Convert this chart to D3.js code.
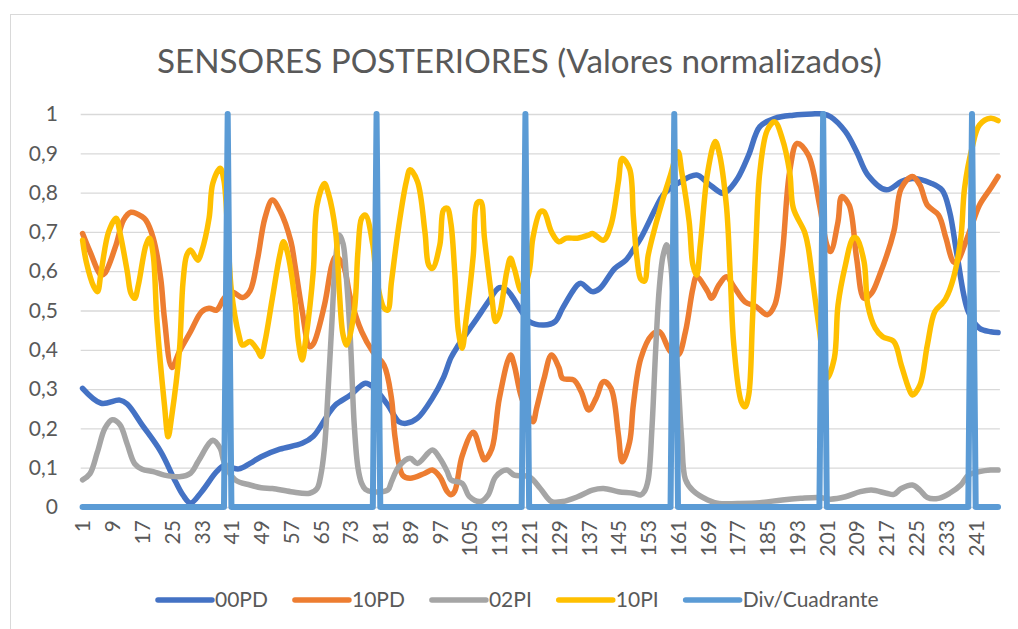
<!DOCTYPE html>
<html>
<head>
<meta charset="utf-8">
<script src="https://cdn.jsdelivr.net/npm/d3@7"></script>
<style>
  html, body { margin: 0; padding: 0; background: #fff; }
  svg { display: block; font-family: Lato, "Open Sans", sans-serif; }
</style>
</head>
<body>
<svg id="chart" width="1018" height="629"></svg>
<script>
// Sample count (x categories 1..N)
const N = 247;

// X tick labels (every 8th sample)
const xTickLabels = [1, 9, 17, 25, 33, 41, 49, 57, 65, 73, 81, 89, 97, 105, 113, 121,
  129, 137, 145, 153, 161, 169, 177, 185, 193, 201, 209, 217, 225, 233, 241];

// Y tick values
const yTickValues = [0, 0.1, 0.2, 0.3, 0.4, 0.5, 0.6, 0.7, 0.8, 0.9, 1];

// Series names and colours
const seriesNames = ["00PD", "10PD", "02PI", "10PI", "Div/Cuadrante"];
const seriesColors = ["#4472C4", "#ED7D31", "#A5A5A5", "#FFC000", "#5B9BD5"];

// Normalised readings as [sample, value]
const s00PD = [[1,0.302],[6,0.264],[11,0.272],[13,0.262],[17,0.209],[22,0.141],[26,0.064],[28,0.03],[30,0.01],
  [33,0.039],[37,0.09],[39,0.105],[41,0.1],[43,0.097],[46,0.111],[49,0.128],[54,0.147],[60,0.162],[63,0.18],
  [67,0.236],[69,0.26],[73,0.285],[77,0.315],[79,0.306],[83,0.26],[86,0.217],[88,0.213],[91,0.226],[95,0.277],
  [98,0.33],[100,0.38],[102,0.412],[107,0.48],[110,0.522],[113,0.558],[115,0.552],[119,0.497],[121,0.472],
  [125,0.463],[128,0.472],[130,0.506],[134,0.565],[135,0.569],[138,0.548],[140,0.556],[144,0.607],[147,0.628],
  [149,0.655],[151,0.684],[155,0.76],[157,0.794],[161,0.824],[166,0.845],[169,0.824],[173,0.798],[174,0.802],
  [177,0.836],[180,0.896],[183,0.968],[187,0.989],[192,0.997],[197,1.0],[200,1.0],[202,0.993],[206,0.955],
  [209,0.904],[212,0.845],[217,0.807],[221,0.828],[224,0.836],[229,0.824],[232,0.806],[234,0.751],[236,0.64],
  [239,0.497],[242,0.455],[245,0.446],[247,0.444]];

const s10PD = [[1,0.696],[3,0.65],[6,0.59],[7,0.595],[10,0.667],[12,0.73],[14,0.75],[17,0.739],[18,0.73],
  [20,0.684],[22,0.582],[23,0.48],[25,0.355],[27,0.395],[30,0.446],[33,0.497],[35,0.506],[37,0.501],[39,0.531],
  [41,0.548],[44,0.533],[46,0.55],[48,0.63],[50,0.735],[52,0.781],[54,0.755],[57,0.675],[58,0.62],[60,0.5],
  [62,0.408],[63,0.415],[66,0.514],[68,0.616],[69,0.637],[71,0.616],[73,0.531],[76,0.446],[79,0.395],[82,0.361],
  [84,0.277],[85,0.175],[87,0.081],[89,0.073],[93,0.086],[95,0.094],[97,0.077],[99,0.039],[100,0.031],[101,0.04],
  [103,0.13],[106,0.19],[108,0.141],[109,0.12],[111,0.149],[113,0.277],[116,0.387],[117,0.361],[119,0.277],
  [122,0.217],[123,0.251],[125,0.327],[127,0.387],[129,0.355],[130,0.327],[133,0.323],[135,0.293],[137,0.247],
  [139,0.277],[141,0.319],[143,0.302],[145,0.183],[146,0.115],[148,0.166],[149,0.26],[151,0.378],[154,0.438],
  [156,0.446],[159,0.395],[161,0.387],[163,0.446],[165,0.556],[166,0.586],[169,0.548],[170,0.531],[172,0.565],
  [174,0.586],[176,0.561],[179,0.522],[182,0.51],[185,0.489],[187,0.514],[189,0.641],[191,0.853],[193,0.925],
  [196,0.896],[199,0.77],[201,0.667],[202,0.65],[204,0.726],[205,0.79],[207,0.768],[209,0.633],[211,0.531],
  [213,0.544],[215,0.586],[219,0.701],[221,0.811],[224,0.841],[226,0.819],[228,0.768],[231,0.743],[233,0.684],
  [235,0.624],[236,0.624],[238,0.667],[240,0.718],[242,0.768],[245,0.811],[247,0.841]];

const s02PI = [[1,0.069],[3,0.085],[5,0.14],[7,0.2],[9,0.222],[11,0.21],[13,0.16],[15,0.11],[17,0.096],[20,0.09],
  [23,0.081],[27,0.077],[30,0.086],[32,0.115],[35,0.162],[36,0.17],[38,0.149],[39,0.115],[42,0.069],[46,0.056],
  [49,0.049],[52,0.047],[57,0.039],[62,0.035],[64,0.047],[65,0.08],[66,0.15],[67,0.3],[68,0.47],[69,0.63],
  [70,0.692],[71,0.67],[72,0.57],[73,0.42],[74,0.21],[75,0.1],[76,0.06],[77,0.045],[79,0.039],[83,0.043],
  [84,0.064],[86,0.103],[89,0.124],[91,0.111],[95,0.145],[97,0.124],[99,0.09],[100,0.069],[103,0.06],[105,0.026],
  [108,0.014],[110,0.031],[112,0.077],[115,0.094],[117,0.081],[121,0.077],[124,0.047],[127,0.014],[130,0.014],
  [134,0.026],[138,0.043],[141,0.047],[145,0.039],[149,0.035],[151,0.031],[152,0.04],[153,0.07],[154,0.2],
  [155,0.4],[156,0.56],[157,0.64],[158,0.667],[159,0.62],[160,0.48],[161,0.33],[162,0.17],[163,0.07],[165,0.042],
  [169,0.018],[172,0.009],[177,0.009],[183,0.011],[189,0.018],[194,0.022],[199,0.024],[202,0.02],[206,0.026],
  [210,0.039],[213,0.043],[217,0.035],[219,0.032],[221,0.047],[224,0.056],[226,0.043],[228,0.024],[231,0.022],
  [234,0.035],[237,0.056],[239,0.081],[242,0.09],[245,0.094],[247,0.094]];

const s10PI = [[1,0.679],[2,0.624],[4,0.561],[5,0.548],[6,0.599],[8,0.7],[10,0.735],[11,0.7],[13,0.6],[14,0.544],
  [15,0.531],[16,0.565],[18,0.665],[19,0.684],[20,0.64],[21,0.472],[23,0.26],[24,0.179],[25,0.234],[27,0.395],
  [28,0.573],[29,0.641],[30,0.654],[32,0.628],[33,0.65],[35,0.735],[36,0.824],[38,0.862],[39,0.83],[40,0.7],
  [41,0.55],[43,0.438],[44,0.412],[46,0.421],[48,0.399],[49,0.383],[50,0.42],[52,0.531],[54,0.641],[55,0.675],
  [56,0.65],[58,0.531],[59,0.421],[60,0.374],[61,0.429],[63,0.6],[64,0.768],[66,0.823],[67,0.8],[69,0.7],
  [70,0.548],[71,0.438],[72,0.412],[74,0.497],[75,0.65],[76,0.735],[77,0.743],[79,0.667],[80,0.58],[82,0.506],
  [83,0.501],[84,0.573],[86,0.717],[88,0.828],[89,0.858],[91,0.828],[93,0.7],[94,0.616],[95,0.607],[97,0.667],
  [98,0.756],[99,0.76],[100,0.72],[101,0.599],[102,0.446],[103,0.404],[104,0.472],[106,0.641],[107,0.773],
  [108,0.777],[109,0.684],[111,0.531],[112,0.472],[113,0.489],[115,0.599],[116,0.633],[117,0.607],[119,0.548],
  [121,0.599],[122,0.684],[124,0.751],[125,0.751],[127,0.7],[129,0.675],[131,0.684],[134,0.684],[137,0.692],
  [138,0.696],[141,0.679],[143,0.718],[145,0.828],[146,0.887],[148,0.86],[149,0.74],[150,0.63],[151,0.58],
  [152,0.575],[153,0.641],[155,0.718],[157,0.785],[159,0.845],[161,0.904],[162,0.853],[164,0.726],[165,0.616],
  [166,0.59],[167,0.667],[169,0.853],[171,0.93],[172,0.904],[174,0.768],[175,0.599],[176,0.412],[178,0.268],
  [179,0.255],[180,0.285],[181,0.472],[182,0.684],[183,0.853],[185,0.959],[187,0.98],[189,0.938],[191,0.853],
  [192,0.76],[195,0.7],[196,0.66],[197,0.59],[199,0.45],[201,0.327],[203,0.378],[204,0.514],[206,0.616],
  [208,0.684],[209,0.684],[211,0.624],[212,0.514],[214,0.455],[216,0.433],[219,0.421],[221,0.361],[223,0.302],
  [224,0.285],[226,0.31],[228,0.412],[230,0.497],[232,0.518],[233,0.531],[235,0.582],[237,0.684],[238,0.811],
  [240,0.913],[242,0.972],[245,0.989],[247,0.983]];

// Quadrant divider: 1 at each division sample, 0 elsewhere
const sDiv = [[1,0],[39,0],[40,1],[41,0],[79,0],[80,1],[81,0],[119,0],[120,1],[121,0],
  [159,0],[160,1],[161,0],[199,0],[200,1],[201,0],[239,0],[240,1],[241,0],[247,0]];

const seriesData = [s00PD, s10PD, s02PI, s10PI, sDiv];

const svg = d3.select("#chart");
const textColor = "#595959";

// chart frame
svg.append("rect")
  .attr("x", 10.5).attr("y", 14.5)
  .attr("width", 1100).attr("height", 700)
  .attr("fill", "#fff").attr("stroke", "#D9D9D9").attr("stroke-width", 1);

const plot = { left: 80.7, right: 999.9, top: 114, bottom: 507 };

const x = d3.scaleLinear().domain([0.5, N + 0.5]).range([plot.left, plot.right]);
const y = d3.scaleLinear().domain([0, 1]).range([plot.bottom, plot.top]);

// title
svg.append("text")
  .attr("x", 519.5).attr("y", 73)
  .attr("text-anchor", "middle")
  .attr("font-size", 33)
  .attr("fill", textColor)
  .attr("textLength", 725)
  .attr("lengthAdjust", "spacingAndGlyphs")
  .text("SENSORES POSTERIORES (Valores normalizados)");

// y axis with gridlines
const fmt = v => String(+v.toFixed(1)).replace(".", ",");
const yAxis = svg.append("g")
  .attr("transform", `translate(${plot.left},0)`)
  .call(d3.axisLeft(y).tickValues(yTickValues)
    .tickSize(-(plot.right - plot.left)).tickPadding(22.7).tickFormat(fmt));
yAxis.select(".domain").remove();
yAxis.selectAll(".tick line").attr("stroke", "#D9D9D9").attr("stroke-width", 1.3);
yAxis.selectAll(".tick text")
  .attr("font-family", "Lato, 'Open Sans', sans-serif")
  .attr("font-size", 21).attr("fill", textColor);

// x axis with rotated labels
const xAxis = svg.append("g")
  .attr("transform", `translate(0,${plot.bottom})`)
  .call(d3.axisBottom(x).tickValues(xTickLabels).tickSize(0).tickFormat(d => d));
xAxis.select(".domain").attr("stroke", "#D9D9D9");
xAxis.selectAll(".tick text")
  .attr("font-family", "Lato, 'Open Sans', sans-serif")
  .attr("font-size", 21).attr("fill", textColor)
  .attr("transform", "rotate(-90)")
  .attr("text-anchor", "end")
  .attr("x", -13).attr("y", 0).attr("dy", "0.35em");

// series lines
const smooth = d3.line().x(d => x(d[0])).y(d => y(d[1])).curve(d3.curveCatmullRom.alpha(0.5));
const straight = d3.line().x(d => x(d[0])).y(d => y(d[1]));

svg.append("g").selectAll("path")
  .data(seriesData)
  .join("path")
  .attr("d", (d, i) => (i === 4 ? straight(d) : smooth(d)))
  .attr("fill", "none")
  .attr("stroke", (d, i) => seriesColors[i])
  .attr("stroke-width", (d, i) => (i === 4 ? 6 : 5.5))
  .attr("stroke-linejoin", "round")
  .attr("stroke-linecap", "round");

// legend
const legend = svg.append("g");
let lx = 158;
const ly = 600;
seriesNames.forEach((name, i) => {
  legend.append("line")
    .attr("x1", lx).attr("x2", lx + 54)
    .attr("y1", ly).attr("y2", ly)
    .attr("stroke", seriesColors[i]).attr("stroke-width", 5.5)
    .attr("stroke-linecap", "round");
  const t = legend.append("text")
    .attr("x", lx + 57).attr("y", ly).attr("dy", "0.35em")
    .attr("font-size", 21).attr("fill", textColor)
    .text(name);
  lx += 57 + t.node().getComputedTextLength() + 27;
});
</script>
</body>
</html>
